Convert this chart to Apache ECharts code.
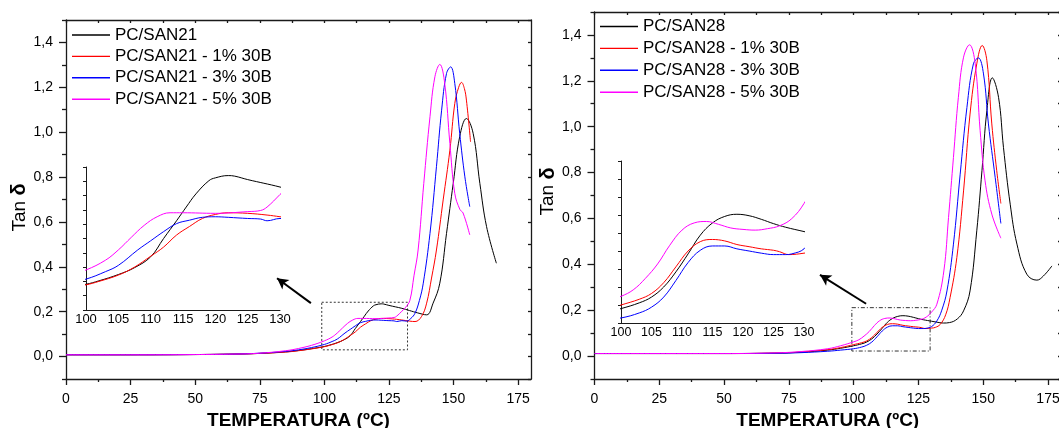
<!DOCTYPE html>
<html>
<head>
<meta charset="utf-8">
<script src="https://cdn.jsdelivr.net/npm/echarts@6/dist/echarts.min.js"></script>
<style>
  html, body { margin: 0; padding: 0; background: #ffffff; }
  #chart { width: 1059px; height: 428px; }
</style>
</head>
<body>
<div id="chart"></div>
<script>
// ---- tick labels ----
const xTicks = [0, 25, 50, 75, 100, 125, 150, 175];
const xMinorTicks = [12.5, 37.5, 62.5, 87.5, 112.5, 137.5, 162.5];
const yTicks = [0, 0.2, 0.4, 0.6, 0.8, 1.0, 1.2, 1.4];
const yMinorTicks = [-0.1, 0.1, 0.3, 0.5, 0.7, 0.9, 1.1, 1.3, 1.5];
const insetXTicks = [100, 105, 110, 115, 120, 125, 130];

// ---- series names ----
const names21 = ['PC/SAN21', 'PC/SAN21 - 1% 30B', 'PC/SAN21 - 3% 30B', 'PC/SAN21 - 5% 30B'];
const names28 = ['PC/SAN28', 'PC/SAN28 - 1% 30B', 'PC/SAN28 - 3% 30B', 'PC/SAN28 - 5% 30B'];

// ---- tan delta vs temperature (°C), PC/SAN21 blends ----
const san21Pure = [
  [0,0.008],[25,0.008],[50,0.009],[65,0.011],[75,0.014],[85,0.021],[90,0.027],[95,0.035],
  [100,0.045],[102,0.051],[105,0.062],[107.5,0.074],[110,0.093],[112,0.125],[114,0.156],[115.5,0.18],
  [117,0.203],[119,0.226],[120,0.231],[122,0.235],[123,0.234],[125,0.228],[130,0.215],
  [133,0.205],[136,0.195],[139.6,0.186],[142.1,0.238],[144.7,0.327],[147.3,0.549],[149.9,0.772],
  [152.4,0.98],[155.0,1.061],[157.6,0.995],[160.2,0.772],[162.8,0.579],[166.6,0.416]
];
const san21Clay1 = [
  [0,0.008],[25,0.008],[50,0.009],[65,0.011],[75,0.014],[85,0.02],[90,0.026],[95,0.034],
  [100,0.044],[102,0.05],[105,0.061],[107.5,0.075],[110,0.094],[112,0.11],[114,0.131],[116,0.146],
  [118,0.16],[120,0.167],[122,0.17],[125,0.169],[128,0.166],[130,0.163],
  [133,0.158],[135.1,0.156],[137.6,0.178],[139.6,0.238],[141.5,0.35],[143.4,0.475],[146.0,0.698],
  [148.6,0.92],[150.5,1.128],[152,1.2],[153.1,1.222],[154.2,1.195],[155.0,1.143],[156.6,0.957]
];
const san21Clay3 = [
  [0,0.008],[25,0.008],[50,0.009],[65,0.011],[75,0.015],[85,0.023],[90,0.03],[95,0.04],
  [100,0.054],[103,0.067],[105,0.078],[108,0.105],[110,0.121],[112,0.137],[114,0.151],[116,0.157],
  [118,0.162],[120,0.163],[122,0.162],[125,0.16],[127,0.159],[128,0.156],[130,0.16],
  [131.8,0.158],[133.5,0.17],[135.1,0.193],[136.8,0.25],[138.3,0.327],[140.9,0.549],[143.4,0.846],
  [145.4,1.098],[147.3,1.262],[148.9,1.291],[150.5,1.217],[152.4,0.995],[154.4,0.801],[156.3,0.668]
];
const san21Clay5 = [
  [0,0.008],[25,0.008],[50,0.009],[65,0.011],[75,0.015],[85,0.026],[90,0.036],[95,0.05],
  [100,0.07],[103,0.087],[105,0.105],[107,0.127],[109,0.148],[111,0.163],[113,0.17],[115,0.17],
  [120,0.169],[125,0.172],[127,0.174],[128,0.18],[130,0.202],
  [131.5,0.22],[133.1,0.25],[134.7,0.36],[136.3,0.475],[138.5,0.772],[140.9,1.069],[142.8,1.247],
  [144.7,1.302],[146.6,1.217],[148.6,0.95],[150.5,0.727],[152.5,0.655],[153.7,0.64],[156.3,0.542]
];

// ---- tan delta vs temperature (°C), PC/SAN28 blends ----
const san28Pure = [
  [0,0.011],[50,0.011],[70,0.013],[80,0.017],[90,0.026],[95,0.034],
  [100,0.045],[103,0.053],[105,0.061],[107,0.075],[109,0.096],[111,0.121],[113,0.147],[115,0.164],
  [117,0.173],[119,0.176],[121,0.174],[123,0.169],[125,0.163],[127,0.158],[130,0.152],
  [132,0.148],[134.6,0.144],[137,0.146],[140,0.162],[142.4,0.197],[144.9,0.284],[147.5,0.546],
  [149.5,0.808],[151.4,1.07],[153.5,1.213],[155.9,1.128],[157.8,0.91],[160.4,0.662],[163.0,0.488],
  [166.8,0.357],[170.7,0.331],[173.2,0.349],[176.5,0.393]
];
const san28Clay1 = [
  [0,0.011],[50,0.011],[70,0.013],[80,0.018],[90,0.028],[95,0.037],
  [100,0.05],[103,0.058],[105,0.066],[107,0.081],[109,0.103],[111,0.125],[113,0.138],[115,0.141],
  [117,0.139],[119,0.134],[121,0.131],[123,0.128],[125,0.126],[126,0.124],[127.5,0.12],[130,0.122],
  [131.5,0.125],[133.4,0.138],[135.5,0.18],[137.2,0.255],[139.8,0.429],[142.4,0.72],[144.9,1.055],
  [147.5,1.274],[149.6,1.354],[151.4,1.288],[153.3,1.012],[155.2,0.808],[156.8,0.665]
];
const san28Clay3 = [
  [0,0.011],[50,0.011],[70,0.012],[80,0.015],[90,0.021],[95,0.026],
  [100,0.032],[103,0.039],[105,0.047],[107,0.061],[109,0.084],[111,0.109],[113,0.126],[115,0.132],
  [117,0.132],[119,0.128],[121,0.125],[123,0.122],[125,0.12],[127,0.12],[128,0.121],[130,0.128],
  [132.1,0.153],[134,0.2],[136.0,0.284],[138.5,0.488],[141.1,0.793],[143.7,1.084],[146.2,1.274],
  [148.1,1.3],[150.1,1.23],[152.0,1.012],[154.6,0.779],[156.8,0.578]
];
const san28Clay5 = [
  [0,0.011],[50,0.011],[70,0.014],[80,0.02],[90,0.032],[95,0.045],
  [100,0.062],[102,0.071],[104,0.087],[106,0.107],[108,0.133],[110,0.154],[112,0.164],[114,0.166],
  [116,0.162],[118,0.157],[120,0.155],[122,0.154],[124,0.156],[126,0.16],[128,0.17],[130,0.191],
  [132.1,0.226],[134.8,0.371],[136.6,0.604],[138.5,0.866],[140.4,1.128],[142.4,1.303],[144.7,1.357],
  [146.9,1.274],[148.8,0.983],[150.7,0.764],[153.3,0.619],[156.8,0.514]
];

const COLORS = ['#000000', '#ff0000', '#0000ff', '#ff00ff'];
const FONT = '"Liberation Sans", Arial, Helvetica, sans-serif';
const AXIS_LINE = { color: '#1a1a1a', width: 1.3 };

const option = {
  animation: false,
  backgroundColor: '#ffffff',
  textStyle: { fontFamily: FONT },
  grid: [], xAxis: [], yAxis: [], series: [], legend: []
};

function addPanel(p) {
  const g = option.grid.length;
  option.grid.push(
    Object.assign({ containLabel: false, outerBoundsMode: 'none' }, p.mainGrid),
    Object.assign({ containLabel: false, outerBoundsMode: 'none' }, p.insetGrid)
  );

  const xb = option.xAxis.length;
  option.xAxis.push(
    { // bottom axis with labels and major ticks
      gridIndex: g, type: 'value', min: 0, max: 180, position: 'bottom',
      axisLine: { show: true, onZero: false, lineStyle: AXIS_LINE },
      axisTick: { show: true, inside: false, length: 6, customValues: xTicks, lineStyle: AXIS_LINE },
      axisLabel: { customValues: xTicks, fontSize: 14, color: '#000', margin: 13, fontFamily: FONT },
      splitLine: { show: false },
      name: 'TEMPERATURA (ºC)', nameLocation: 'middle', nameGap: 29,
      nameTextStyle: { fontSize: 19, fontWeight: 'bold', color: '#000', fontFamily: FONT }
    },
    { // minor ticks
      gridIndex: g, type: 'value', min: 0, max: 180, position: 'bottom',
      axisLine: { show: false, onZero: false },
      axisTick: { show: true, length: 3, customValues: xMinorTicks, lineStyle: AXIS_LINE },
      axisLabel: { show: false }, splitLine: { show: false }
    },
    { // top frame
      gridIndex: g, type: 'value', min: 0, max: 180, position: 'top',
      axisLine: { show: true, onZero: false, lineStyle: AXIS_LINE },
      axisTick: { show: true, inside: true, length: 3, customValues: xTicks.concat(xMinorTicks), lineStyle: AXIS_LINE },
      axisLabel: { show: false }, splitLine: { show: false }
    },
    { // inset axis
      gridIndex: g + 1, type: 'value', min: 100, max: 130, interval: 5, position: 'bottom',
      axisLine: { show: true, onZero: false, lineStyle: { color: '#1a1a1a', width: 1 } },
      axisTick: { show: false },
      axisLabel: { customValues: insetXTicks, fontSize: p.insetFont, color: '#000', margin: 3, fontFamily: FONT },
      splitLine: { show: false }
    }
  );

  const yb = option.yAxis.length;
  option.yAxis.push(
    {
      gridIndex: g, type: 'value', min: -0.1, max: 1.5, position: 'left',
      axisLine: { show: true, onZero: false, lineStyle: AXIS_LINE },
      axisTick: { show: true, length: 7, customValues: yTicks, lineStyle: AXIS_LINE },
      axisLabel: {
        customValues: yTicks, fontSize: 14, color: '#000', margin: 13, fontFamily: FONT,
        formatter: v => v.toFixed(1).replace('.', ',')
      },
      splitLine: { show: false },
      name: 'Tan {d|δ}', nameLocation: 'middle', nameGap: p.yNameGap, nameRotate: 90,
      nameTextStyle: {
        fontSize: 19, color: '#000', fontFamily: FONT, padding: p.yNamePad,
        rich: { d: { fontSize: 20, fontWeight: 'bold', color: '#000', fontFamily: FONT } }
      }
    },
    {
      gridIndex: g, type: 'value', min: -0.1, max: 1.5, position: 'left',
      axisLine: { show: false, onZero: false },
      axisTick: { show: true, length: 4, customValues: yMinorTicks, lineStyle: AXIS_LINE },
      axisLabel: { show: false }, splitLine: { show: false }
    },
    {
      gridIndex: g, type: 'value', min: -0.1, max: 1.5, position: 'right',
      axisLine: { show: true, onZero: false, lineStyle: AXIS_LINE },
      axisTick: { show: true, inside: true, length: 3, customValues: yTicks.concat(yMinorTicks), lineStyle: AXIS_LINE },
      axisLabel: { show: false }, splitLine: { show: false }
    },
    {
      gridIndex: g + 1, type: 'value', min: p.insetMin, max: p.insetMax, interval: 0.025, position: 'left',
      axisLine: { show: true, onZero: false, lineStyle: { color: '#1a1a1a', width: 1 } },
      axisTick: { show: true, length: 3, lineStyle: { color: '#1a1a1a', width: 1 } },
      axisLabel: { show: false }, splitLine: { show: false }
    }
  );

  p.data.forEach((d, i) => {
    const main = {
      type: 'line', name: p.names[i], data: d,
      xAxisIndex: xb, yAxisIndex: yb,
      symbol: 'none', smooth: 0.4,
      lineStyle: { color: COLORS[i], width: 1 }, itemStyle: { color: COLORS[i] },
      z: 2 + i, silent: true
    };
    if (i === 0) {
      main.markArea = {
        silent: true,
        itemStyle: { color: 'rgba(0,0,0,0)', borderColor: '#333', borderWidth: 1, borderType: p.boxDash },
        data: [[{ coord: p.box[0] }, { coord: p.box[1] }]]
      };
      main.markLine = {
        silent: true, symbol: ['none', 'arrow'], symbolSize: [9, 11],
        lineStyle: { color: '#000', width: 2, type: 'solid' },
        itemStyle: { color: '#000' },
        label: { show: false },
        data: [[{ coord: p.arrow[0] }, { coord: p.arrow[1] }]]
      };
    }
    option.series.push(main);
    option.series.push({
      type: 'line', name: p.names[i], data: d,
      xAxisIndex: xb + 3, yAxisIndex: yb + 3,
      symbol: 'none', smooth: 0.4, clip: true,
      lineStyle: { color: COLORS[i], width: 1 }, itemStyle: { color: COLORS[i] },
      z: 2 + i, silent: true
    });
  });

  option.legend.push(Object.assign({
    data: p.names, orient: 'vertical', padding: 0,
    icon: 'rect', itemWidth: 38, itemHeight: 1.4, selectedMode: false,
    textStyle: { fontSize: 17, color: '#000', fontFamily: FONT, lineHeight: 19 }
  }, p.legend));
}

addPanel({
  names: names21,
  data: [san21Pure, san21Clay1, san21Clay3, san21Clay5],
  mainGrid: { left: 66, top: 20, width: 465, height: 359 },
  insetGrid: { left: 86, top: 167, width: 194, height: 143 },
  insetMin: 0, insetMax: 0.25, insetFont: 13,
  yNameGap: 33, yNamePad: [0, 16, 0, 0],
  box: [[99, 0.242], [132.2, 0.03]], boxDash: [2, 2],
  arrow: [[94.8, 0.238], [81.7, 0.349]],
  legend: { left: 72, top: 25.5, itemGap: 2.4 }
});

addPanel({
  names: names28,
  data: [san28Pure, san28Clay1, san28Clay3, san28Clay5],
  mainGrid: { left: 594.5, top: 12, width: 466.5, height: 367 },
  insetGrid: { left: 621, top: 161, width: 183, height: 162 },
  insetMin: 0.025, insetMax: 0.25, insetFont: 12.5,
  yNameGap: 30, yNamePad: [0, 0, 0, 8],
  box: [[99.3, 0.211], [129.5, 0.022]], boxDash: [4, 2, 1, 2],
  arrow: [[104.8, 0.228], [87.0, 0.354]],
  legend: { left: 600, top: 17, itemGap: 2.9 }
});

const chart = echarts.init(document.getElementById('chart'), null, { renderer: 'canvas' });
chart.setOption(option);
</script>
</body>
</html>
